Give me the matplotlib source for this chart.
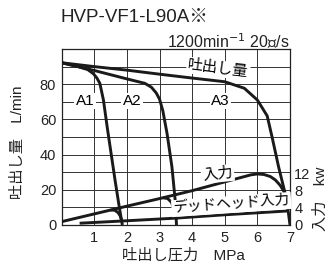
import matplotlib
matplotlib.use('Agg')
from matplotlib import pyplot as plt

plt.rcParams['font.family'] = ['Liberation Sans', 'Noto Sans CJK JP', 'DejaVu Sans']

# Flow curves (MPa, L/min) #
a3_x = [0, 1, 2, 3, 4, 5, 5.6, 6.0, 6.3, 6.45, 6.65, 6.85, 6.95, 7.0]
a3_y = [92.2, 90.0, 88.0, 85.7, 83.5, 81.4, 77.7, 71, 62, 50, 33, 18, 7, 0]

a2_x = [0, 1, 1.94, 2.55, 2.75, 2.9, 3.0, 3.1, 3.23, 3.38, 3.48, 3.52]
a2_y = [92.2, 87.8, 83.3, 80.5, 78.3, 75, 71.5, 65, 52, 33, 14, 0]

a1_x = [0, 0.5, 0.8, 0.97, 1.08, 1.17, 1.28, 1.4, 1.52, 1.64, 1.75, 1.83, 1.86]
a1_y = [92.2, 90.0, 88.3, 86.0, 83.5, 80.5, 71, 55, 40, 25, 12, 3, 0]

# Input power curves (drawn on the flow scale) #
inp_x = [0, 1, 2, 3, 4, 5, 5.5, 5.8, 6.0, 6.2, 6.4, 6.55, 6.7, 6.8, 6.9, 6.95]
inp_y = [1.9, 6.3, 10.7, 15.0, 19.5, 24.5, 27.0, 28.5, 29.0, 28.7, 27.5, 25.6, 22.5, 19.5, 14.0, 8.5]

dead_x = [0.55, 2, 3.5, 5, 6.95]
dead_y = [1.0, 2.4, 3.9, 5.8, 8.0]

hook1_x = [1.5, 1.62, 1.72, 1.79, 1.84]
hook1_y = [8.5, 8.4, 7.2, 5.3, 2.6]
hook2_x = [3.1, 3.25, 3.36, 3.44, 3.49]
hook2_y = [15.5, 15.0, 13.0, 9.5, 3.8]

x_ticks = [0, 1, 2, 3, 4, 5, 6, 7]
x_labels = ['', '1', '2', '3', '4', '5', '6', '7']
y_ticks = list(range(0, 101, 10))
y_labels = ['0', '', '20', '', '40', '', '60', '', '80', '', '']
kw_ticks = [0, 4, 8, 12]

fig = plt.figure(figsize=(3.29, 2.65), dpi=100)
ax = fig.add_axes([0.1875, 0.151, 0.694, 0.664])

lw = 2.1
col = '#1a1a1a'
for xs, ys in [(a3_x, a3_y), (a2_x, a2_y), (a1_x, a1_y), (inp_x, inp_y),
               (dead_x, dead_y), (hook1_x, hook1_y), (hook2_x, hook2_y)]:
    ax.plot(xs, ys, color=col, lw=lw, solid_capstyle='butt', zorder=3)

ax.set_xlim(0, 7)
ax.set_ylim(0, 100)
ax.set_xticks(x_ticks)
ax.set_xticklabels(x_labels)
ax.set_yticks(y_ticks)
ax.set_yticklabels(y_labels)
ax.tick_params(length=0, labelsize=10.5, pad=4, colors='#222')
ax.grid(True, color='#333', lw=0.7)
ax.set_axisbelow(True)
for s in ax.spines.values():
    s.set_color('#222')
    s.set_linewidth(0.9)

ax2 = ax.twinx()
ax2.set_ylim(0, 41)
ax2.set_yticks(kw_ticks)
ax2.tick_params(length=0, labelsize=10.5, pad=3, colors='#222')
for s in ax2.spines.values():
    s.set_visible(False)

box = dict(fc='white', ec='none', pad=1.0)
ax.text(0.72, 70.5, 'A1', ha='center', va='center', fontsize=11, bbox=box, zorder=4)
ax.text(2.15, 70.5, 'A2', ha='center', va='center', fontsize=11, bbox=box, zorder=4)
ax.text(4.86, 70.5, 'A3', ha='center', va='center', fontsize=11, bbox=box, zorder=4)
ax.text(4.8, 88.8, '吐出し量', ha='center', va='center', fontsize=11, rotation=-7, bbox=box, zorder=4)
ax.text(4.78, 29.0, '入力', ha='center', va='center', fontsize=11, rotation=6, bbox=box, zorder=4)
ax.text(5.2, 11.6, 'デッドヘッド入力', ha='center', va='center', fontsize=10.5, rotation=4, bbox=box, zorder=4)

fig.text(60 / 329, 1 - 17 / 265, 'HVP-VF1-L90A※', ha='left', va='center', fontsize=13.5, color='#222')
fig.text(290 / 329, 1 - 41 / 265, '1200min$^{-1}$ 20㎟/s', ha='right', va='center', fontsize=11.5, color='#222')
fig.text(18 / 329, 1 - 142 / 265, '吐出し量　L/min', rotation=90, ha='center', va='center', fontsize=11, color='#222')
fig.text(321 / 329, 1 - 199 / 265, '入力　kw', rotation=90, ha='center', va='center', fontsize=11, color='#222')
fig.text(183 / 329, 1 - 255 / 265, '吐出し圧力　MPa', ha='center', va='center', fontsize=11, color='#222')

fig.savefig('out.png', dpi=100)
